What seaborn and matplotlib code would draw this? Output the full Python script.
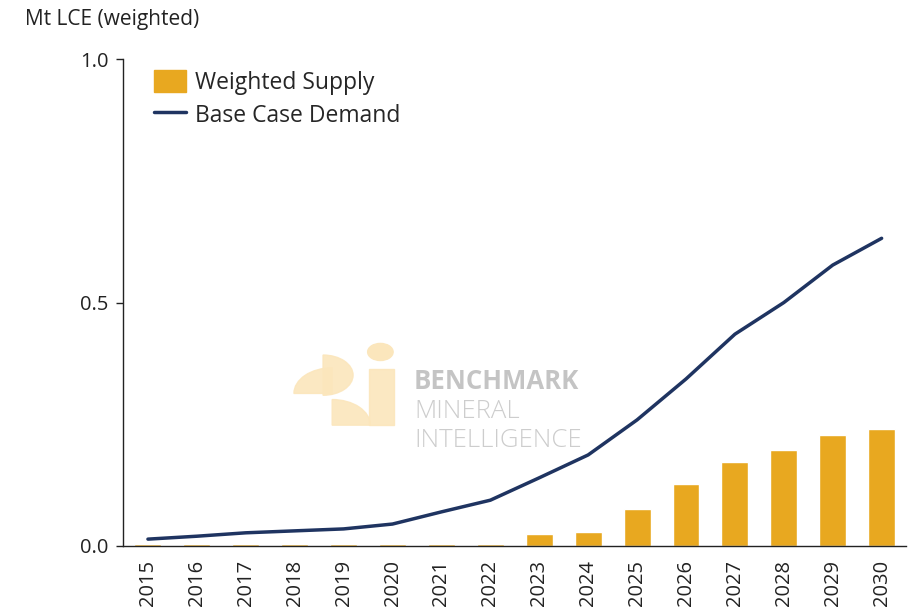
import matplotlib
matplotlib.use('Agg')
import matplotlib.pyplot as plt
import matplotlib.patches as mpatches
from matplotlib.lines import Line2D
import seaborn as sns
import pandas as pd

years = [str(y) for y in range(2015, 2031)]
supply = [0.003, 0.003, 0.003, 0.005, 0.004, 0.003, 0.003, 0.005,
          0.025, 0.029, 0.075, 0.127, 0.172, 0.197, 0.228, 0.240]
demand = [0.014, 0.020, 0.027, 0.031, 0.035, 0.045, 0.070, 0.094,
          0.140, 0.187, 0.259, 0.343, 0.435, 0.500, 0.577, 0.632]

bar_color = '#E8A820'
line_color = '#1F3461'

df = pd.DataFrame({'Year': years, 'Supply': supply, 'Demand': demand})

sns.set_theme(style='white')
plt.rcParams['font.family'] = ['Open Sans', 'DejaVu Sans']

fig = plt.figure(figsize=(9.1, 6.1), dpi=100)
ax = fig.add_axes([0.1357, 0.105, 0.86, 0.798])

# watermark (drawn behind the data)
fig.text(0.455, 0.362, 'BENCHMARK', fontsize=18.5, fontweight='bold', color='#C4C4C4', zorder=0)
fig.text(0.455, 0.314, 'MINERAL', fontsize=18.5, fontweight='light', color='#CDCDCD', zorder=0)
fig.text(0.455, 0.267, 'INTELLIGENCE', fontsize=18.5, fontweight='light', color='#CDCDCD', zorder=0)
logo = '#FBE6BC'
fig.patches.append(mpatches.Circle((0.418, 0.423), 0.014, transform=fig.transFigure, color=logo, zorder=0))
fig.patches.append(mpatches.Wedge((0.355, 0.385), 0.033, -90, 90, transform=fig.transFigure, color=logo, alpha=0.9, zorder=0))
fig.patches.append(mpatches.Wedge((0.365, 0.355), 0.042, 90, 180, transform=fig.transFigure, color=logo, alpha=0.9, zorder=0))
fig.patches.append(mpatches.Wedge((0.365, 0.303), 0.042, 0, 90, transform=fig.transFigure, color=logo, alpha=0.9, zorder=0))
fig.patches.append(mpatches.Rectangle((0.405, 0.303), 0.028, 0.092, transform=fig.transFigure, color=logo, alpha=0.9, zorder=0))

sns.barplot(data=df, x='Year', y='Supply', color=bar_color, width=0.55,
            saturation=1, ax=ax, zorder=2)
sns.lineplot(data=df, x='Year', y='Demand', color=line_color, linewidth=2.5,
             ax=ax, zorder=3, sort=False)

ax.set_xlim(-0.5, 15.5)
ax.set_ylim(0, 1.0)
ax.set_yticks([0.0, 0.5, 1.0])
ax.set_yticklabels(['0.0', '0.5', '1.0'], fontsize=14.5, color='#222222')
ax.tick_params(axis='y', direction='out', length=5, width=1, color='#222222', left=True, pad=6)
ax.tick_params(axis='x', rotation=90, labelsize=14.5, labelcolor='#222222', bottom=False, pad=4)
ax.set_xlabel('')
ax.set_ylabel('')
ax.patch.set_alpha(0)

for s in ['top', 'right']:
    ax.spines[s].set_visible(False)
ax.spines['left'].set_color('#222222')
ax.spines['bottom'].set_color('#222222')
ax.spines['left'].set_linewidth(1)
ax.spines['bottom'].set_linewidth(1)

fig.text(0.027, 0.968, 'Mt LCE (weighted)', fontsize=15, color='#222222', va='center')

handles = [mpatches.Patch(color=bar_color, label='Weighted Supply'),
           Line2D([0], [0], color=line_color, linewidth=2.5, label='Base Case Demand')]
ax.legend(handles=handles, loc='upper left', bbox_to_anchor=(0.012, 1.02), frameon=False,
          fontsize=16.5, handlelength=1.4, handleheight=1.1, handletextpad=0.4, labelspacing=0.35)

plt.savefig('out.png', dpi=100)
